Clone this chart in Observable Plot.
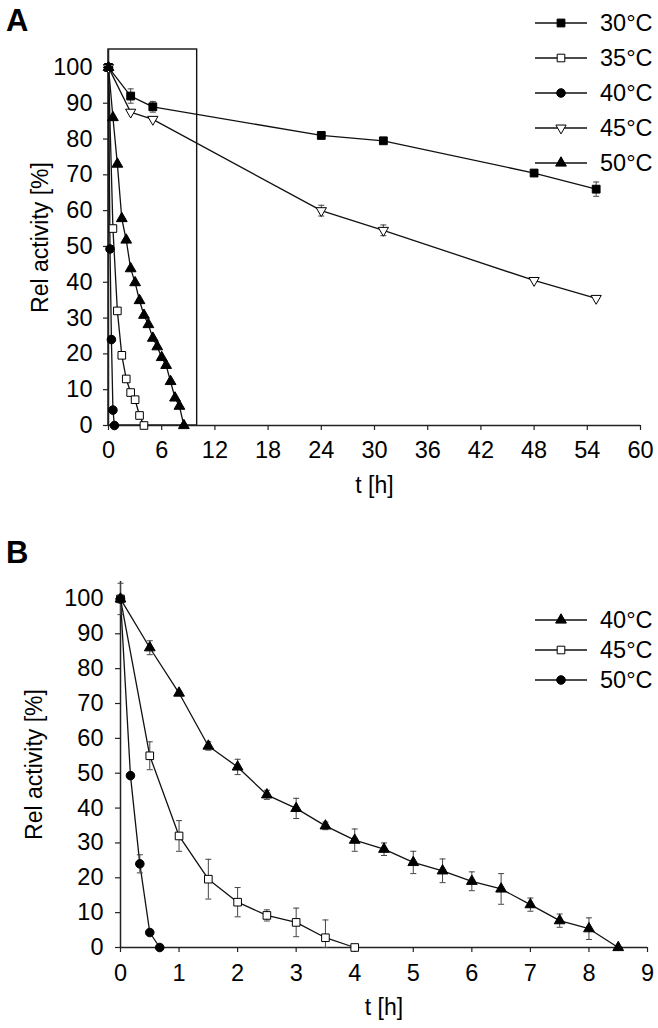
<!DOCTYPE html>
<html><head><meta charset="utf-8">
<script src="https://cdn.jsdelivr.net/npm/d3@7"></script>
<script src="https://cdn.jsdelivr.net/npm/@observablehq/plot@0.6"></script>
<style>
body{margin:0;background:#fff;}
#wrap{position:relative;width:658px;height:1028px;font-family:'Liberation Sans',Arial,sans-serif;}
#wrap svg{position:absolute;left:0;}
</style></head><body><div id="wrap"></div>
<script>
// ---------- data ----------
// Panel A, long-time series
const tLong = [0, 2.5, 5, 24, 31, 48, 55];
const v30 = [100, 92, 89, 81, 79.5, 70.5, 66];
const e30 = [0, 2, 1.5, 0, 0, 0, 2];
const v45long = [100, 87.5, 85.5, 60, 54.5, 40.5, 35.5];
const e45long = [0, 0, 0, 1.5, 1.5, 0, 0];
// fast-decaying series (shown in A and B)
const tTri = [0, 0.5, 1, 1.5, 2, 2.5, 3, 3.5, 4, 4.5, 5, 5.5, 6, 6.5, 7, 7.5, 8, 8.5];
const vTri = [100, 86, 73, 57.8, 51.8, 43.8, 39.9, 34.9, 30.8, 28.2, 24.4, 22, 19, 16.8, 12.3, 7.7, 5.4, 0];
const eTri = [0, 2, 0.5, 1.2, 2.2, 1.3, 2.9, 1.1, 3.2, 1.8, 3.2, 3.4, 2.7, 4.4, 1.9, 1.9, 3.1, 0];
const tSq = [0, 0.5, 1, 1.5, 2, 2.5, 3, 3.5, 4];
const vSq = [100, 55, 32, 19.6, 13, 9.2, 7.2, 2.8, 0];
const eSq = [4.5, 4, 4.4, 5.7, 4.2, 1.6, 4.1, 5.1, 0];
const tCirc = [0, 0.17, 0.33, 0.5, 0.67];
const vCirc = [100, 49.3, 24, 4.3, 0];
const eCirc = [0, 0, 2.6, 0.5, 0];
const noErr = (t) => t.map(() => 0);
// labels & ticks
const legendA = ["30°C", "35°C", "40°C", "45°C", "50°C"];
const legendB = ["40°C", "45°C", "50°C"];
const xTicksA = [0, 6, 12, 18, 24, 30, 36, 42, 48, 54, 60];
const xTicksB = [0, 1, 2, 3, 4, 5, 6, 7, 8, 9];
const yTicks = [0, 10, 20, 30, 40, 50, 60, 70, 80, 90, 100];
const zoomBox = [{t1: 0, t2: 10, v1: 0, v2: 105}];

// ---------- symbols ----------
const triDown = {draw(ctx, size) {const s3 = Math.sqrt(3); const y = Math.sqrt(size / (s3 * 3));
  ctx.moveTo(0, 2 * y); ctx.lineTo(-s3 * y, -y); ctx.lineTo(s3 * y, -y); ctx.closePath();}};
const hline = {draw(ctx) {ctx.moveTo(-3, 0); ctx.lineTo(3, 0);}};

const sty = {
  fsq: {symbol: "square", fill: "#000", r: 4.4, d3s: d3.symbolSquare},
  osq: {symbol: "square", fill: "#fff", r: 4.3, d3s: d3.symbolSquare},
  fci: {symbol: "circle", fill: "#000", r: 4.3, d3s: d3.symbolCircle},
  otd: {symbol: triDown, fill: "#fff", r: 3.8, d3s: triDown},
  ftr: {symbol: "triangle", fill: "#000", r: 4, d3s: d3.symbolTriangle}
};
const rows = (t, v, e) => t.map((x, i) => ({t: x, v: v[i], e: e[i]}));

const seriesA = [
  {label: legendA[0], data: rows(tLong, v30, e30), st: sty.fsq},
  {label: legendA[1], data: rows(tSq, vSq, noErr(tSq)), st: sty.osq},
  {label: legendA[2], data: rows(tCirc, vCirc, noErr(tCirc)), st: sty.fci},
  {label: legendA[3], data: rows(tLong, v45long, e45long), st: sty.otd},
  {label: legendA[4], data: rows(tTri, vTri, noErr(tTri)), st: sty.ftr}
];
const seriesB = [
  {label: legendB[0], data: rows(tTri, vTri, eTri), st: sty.ftr},
  {label: legendB[1], data: rows(tSq, vSq, eSq), st: sty.osq},
  {label: legendB[2], data: rows(tCirc, vCirc, eCirc), st: sty.fci}
];

const FONT = "'Liberation Sans', Arial, sans-serif";
const FS = 23.5;

function panel(series, cfg) {
  const marks = [];
  if (cfg.box) marks.push(Plot.rect(cfg.box, {x1: "t1", x2: "t2", y1: "v1", y2: "v2", fill: "none", stroke: "#111", strokeWidth: 1.4}));
  marks.push(Plot.ruleX([0], {stroke: "#222", strokeWidth: 1.5}));
  marks.push(Plot.ruleY([0], {stroke: "#222", strokeWidth: 1.5}));
  marks.push(Plot.axisX({ticks: cfg.xTicks, tickSize: 5, tickPadding: cfg.xPad, fontSize: FS, label: null, tickFormat: d => String(d), stroke: "#222", strokeWidth: 1.2, fill: "#000"}));
  marks.push(Plot.axisY({ticks: yTicks, tickSize: 5, tickPadding: cfg.yPad, fontSize: FS, label: null, tickFormat: d => String(d), stroke: "#222", strokeWidth: 1.2, fill: "#000"}));
  for (const s of series) {
    marks.push(Plot.line(s.data, {x: "t", y: "v", stroke: "#111", strokeWidth: 1.3}));
  }
  for (const s of series) {
    const eb = s.data.filter(d => d.e > 0);
    if (!eb.length) continue;
    marks.push(Plot.ruleX(eb, {x: "t", y1: d => Math.max(0, d.v - d.e), y2: d => d.v + d.e, stroke: "#444", strokeWidth: 1}));
    marks.push(Plot.dot(eb, {x: "t", y: d => d.v + d.e, symbol: hline, fill: "none", stroke: "#444", strokeWidth: 1}));
    marks.push(Plot.dot(eb, {x: "t", y: d => Math.max(0, d.v - d.e), symbol: hline, fill: "none", stroke: "#444", strokeWidth: 1}));
  }
  for (const s of series) {
    marks.push(Plot.dot(s.data, {x: "t", y: "v", symbol: s.st.symbol, r: s.st.r, fill: s.st.fill, stroke: "#000", strokeWidth: 1}));
  }
  marks.push(Plot.text(["Rel activity [%]"], {text: d => d, frameAnchor: "left", textAnchor: "middle", lineAnchor: "middle", rotate: -90, dx: cfg.yLabDx, fontSize: 23, fill: "#000"}));
  marks.push(Plot.text(["t [h]"], {text: d => d, frameAnchor: "bottom", textAnchor: "middle", lineAnchor: "middle", dy: cfg.xLabDy, fontSize: 23, fill: "#000"}));
  const svg = Plot.plot({
    width: 658, height: cfg.height,
    marginLeft: cfg.ml, marginRight: cfg.mr, marginTop: cfg.mt, marginBottom: cfg.mb,
    x: {domain: cfg.xDomain}, y: {domain: [0, 105]},
    style: {fontFamily: FONT, fontSize: FS + "px", color: "#000", background: "transparent"},
    marks
  });
  svg.style.top = cfg.top + "px";
  return svg;
}

const wrap = document.getElementById("wrap");
wrap.appendChild(panel(seriesA, {top: 0, height: 520, ml: 108, mr: 18, mt: 49, mb: 95, xDomain: [0, 60], xTicks: xTicksA, box: zoomBox, xPad: 11, yPad: 11, yLabDx: -68, xLabDy: 60}));
wrap.appendChild(panel(seriesB, {top: 520, height: 508, ml: 120, mr: 11, mt: 61, mb: 81, xDomain: [0, 9], xTicks: xTicksB, xPad: 12, yPad: 12, yLabDx: -86, xLabDy: 60}));

// ---------- legends and panel letters ----------
const ov = d3.select(wrap).append("svg").attr("width", 658).attr("height", 1028).style("top", "0px").style("pointer-events", "none");
function legend(series, y0, step) {
  series.forEach((s, i) => {
    const y = y0 + i * step;
    ov.append("line").attr("x1", 535).attr("x2", 587).attr("y1", y).attr("y2", y).attr("stroke", "#111").attr("stroke-width", 1.3);
    ov.append("path").attr("d", d3.symbol(s.st.d3s, Math.PI * s.st.r * s.st.r)()).attr("transform", `translate(561,${y})`)
      .attr("fill", s.st.fill).attr("stroke", "#000").attr("stroke-width", 1);
    ov.append("text").attr("x", 600).attr("y", y).attr("dy", "0.35em").attr("font-family", FONT).attr("font-size", 23.5).attr("fill", "#000").text(s.label);
  });
}
legend(seriesA, 23, 35);
legend(seriesB, 620, 30);
ov.append("text").attr("x", 6).attr("y", 31).attr("font-family", FONT).attr("font-weight", "bold").attr("font-size", 31).text("A");
ov.append("text").attr("x", 6).attr("y", 563).attr("font-family", FONT).attr("font-weight", "bold").attr("font-size", 31).text("B");
</script></body></html>
